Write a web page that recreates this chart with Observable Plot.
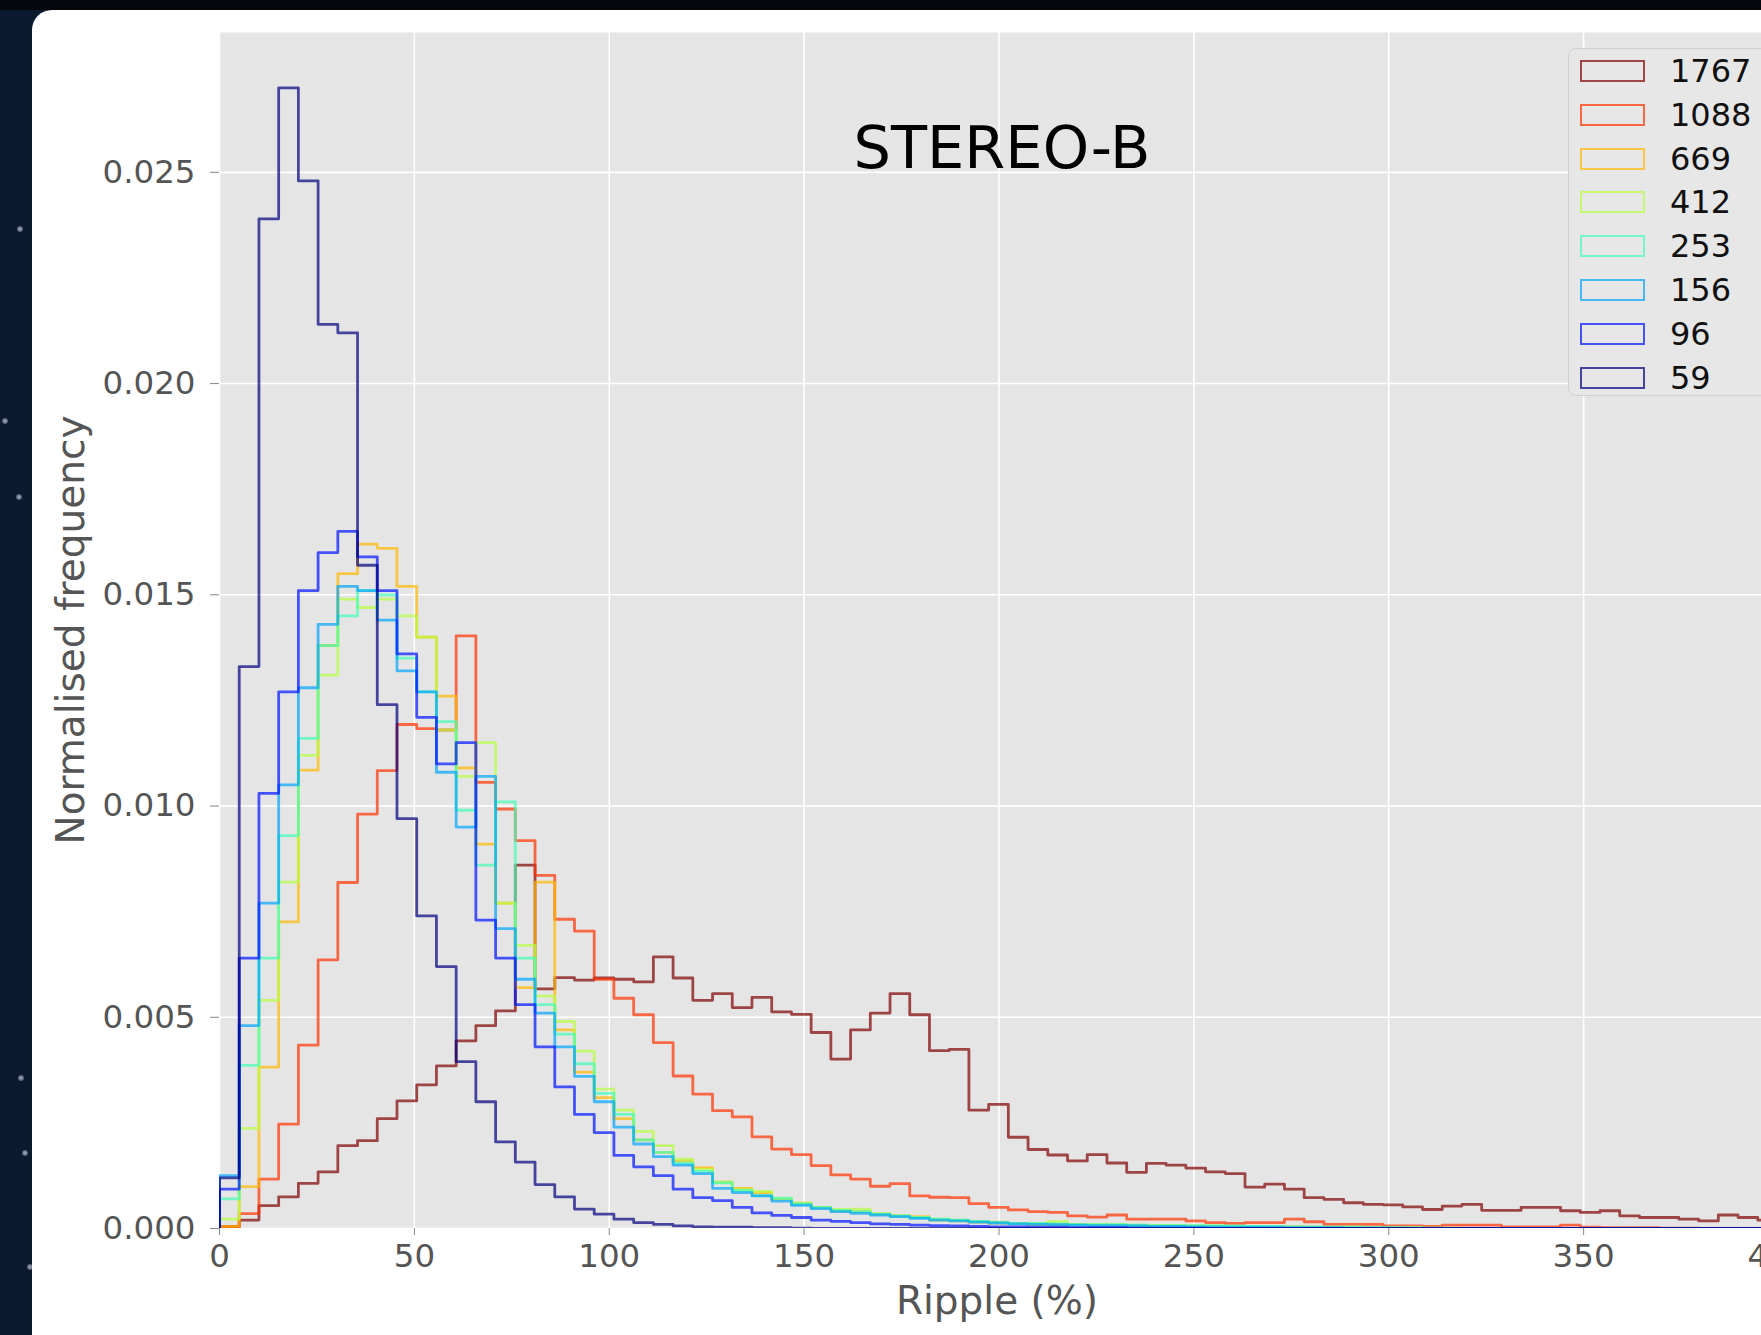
<!DOCTYPE html>
<html>
<head>
<meta charset="utf-8">
<script src="https://cdn.jsdelivr.net/npm/d3@7"></script>
<script src="https://cdn.jsdelivr.net/npm/@observablehq/plot@0.6"></script>
<style>
html,body{margin:0;padding:0;width:1761px;height:1335px;overflow:hidden;background:#0c1a30;}
#topband{position:absolute;left:0;top:0;width:1761px;height:10px;background:#06080d;}
#panel{position:absolute;left:32px;top:10px;width:1800px;height:1400px;background:#ffffff;border-top-left-radius:20px;}
#chart{position:absolute;left:0;top:0;width:1800px;height:1335px;}
#chart svg{max-width:none !important;}
.txt{position:absolute;font-family:"DejaVu Sans";white-space:nowrap;line-height:1;}
.star{position:absolute;width:6px;height:6px;border-radius:3px;background:radial-gradient(circle,#aab4c4 0%,#5a667a 60%,rgba(12,26,48,0) 100%);}
#legend{position:absolute;left:1568px;top:48px;width:230px;height:348px;background:#e7e7e7;border:1px solid #d0d0d0;border-radius:8px;box-sizing:border-box;}
.lrect{position:absolute;width:65px;height:22px;box-sizing:border-box;border-width:2.4px;border-style:solid;}
.ltext{position:absolute;font-family:"DejaVu Sans";font-size:32px;color:#111;line-height:1;white-space:nowrap;}
</style>
</head>
<body>
<div id="topband"></div>
<div class="star" style="left:17px;top:226px"></div>
<div class="star" style="left:2px;top:418px"></div>
<div class="star" style="left:16px;top:494px"></div>
<div class="star" style="left:18px;top:1075px"></div>
<div class="star" style="left:22px;top:1150px"></div>
<div class="star" style="left:27px;top:1264px"></div>
<div id="panel"></div>
<div id="chart"></div>
<div class="txt" style="left:70px;top:630px;font-size:39px;color:#555;transform:translate(-50%,-50%) rotate(-90deg);">Normalised frequency</div>
<div class="txt" style="left:997px;top:1300px;font-size:39px;color:#555;transform:translate(-50%,-50%);">Ripple (%)</div>
<div class="txt" style="left:1002px;top:147px;font-size:59px;color:#000;transform:translate(-50%,-50%);">STEREO-B</div>
<div id="legend"></div>
<script>
// ---- data ----
const binWidth = 5.06;
const nBins = 80;
const seriesNames = ["1767", "1088", "669", "412", "253", "156", "96", "59"];
const seriesColors = ["#800000", "#ff3200", "#ffb900", "#b6ff41", "#41ffb6", "#00a4ff", "#0012ff", "#000080"];
const xTicks = [0, 50, 100, 150, 200, 250, 300, 350, 400];
const yTicks = [0, 0.005, 0.010, 0.015, 0.020, 0.025];

const h1767 = [0.00005, 0.0002, 0.00054, 0.00075, 0.00107, 0.00134, 0.00196, 0.00208, 0.0026, 0.00302,
  0.0034, 0.00385, 0.00444, 0.0048, 0.00515, 0.0086, 0.00567, 0.00594, 0.00588, 0.00593,
  0.0059, 0.00584, 0.00643, 0.00593, 0.0054, 0.00556, 0.00523, 0.00547, 0.00513, 0.00507,
  0.00464, 0.00401, 0.0047, 0.0051, 0.00556, 0.00506, 0.00421, 0.00424, 0.0028, 0.00294,
  0.00216, 0.00187, 0.00174, 0.0016, 0.00175, 0.00155, 0.00133, 0.00154, 0.0015, 0.00143,
  0.00134, 0.0013, 0.00098, 0.00105, 0.00093, 0.00073, 0.00069, 0.00061, 0.00057, 0.00056,
  0.00051, 0.00045, 0.00053, 0.00057, 0.00043, 0.00043, 0.0005, 0.0005, 0.00042, 0.00038,
  0.00042, 0.0003, 0.00026, 0.00026, 0.00022, 0.00018, 0.00032, 0.00026, 0.0002, 0.00018];
const h1088 = [0.00003, 0.00035, 0.00117, 0.00247, 0.00434, 0.00636, 0.00819, 0.00981, 0.01084, 0.01193,
  0.01183, 0.0118, 0.01403, 0.01056, 0.00993, 0.00918, 0.00836, 0.00732, 0.00704, 0.0059,
  0.00545, 0.00506, 0.0044, 0.00361, 0.00318, 0.00279, 0.00264, 0.00217, 0.00188, 0.00175,
  0.00149, 0.00127, 0.00117, 0.001, 0.00106, 0.00077, 0.00074, 0.00073, 0.00059, 0.0005,
  0.00044, 0.0004, 0.00038, 0.0003, 0.00027, 0.00032, 0.00022, 0.00022, 0.00022, 0.00018,
  0.00014, 0.00012, 0.00014, 0.00014, 0.00022, 0.00016, 0.0001, 0.0001, 0.0001, 0.00006,
  0.00006, 0.00005, 0.00008, 0.00008, 0.00008, 0.00004, 0.00004, 0.00004, 0.00008, 0.00003,
  0.00002, 0.00002, 0.00002, 0.00001, 0.00001];
const h669 = [0.00005, 0.00099, 0.00382, 0.00726, 0.01085, 0.0138, 0.0155, 0.0162, 0.0161, 0.0152,
  0.014, 0.0126, 0.0109, 0.0091, 0.0077, 0.0057, 0.0082, 0.0047, 0.0037, 0.0031,
  0.0026, 0.0021, 0.0018, 0.0016, 0.00144, 0.0011, 0.00095, 0.00085, 0.0007, 0.0006,
  0.0005, 0.00042, 0.0004, 0.00034, 0.0003, 0.00028, 0.0002, 0.00018, 0.00015, 0.00013,
  0.00012, 0.0001, 0.0001, 0.00009, 0.00008, 0.00008, 0.00007, 0.00007, 0.00006, 0.00005,
  0.00005, 0.00005, 0.00004, 0.00004, 0.00004, 0.00003, 0.00003, 0.00003, 0.00002, 0.00002, 0.00001];
const h412 = [0.00022, 0.00237, 0.0054, 0.0082, 0.0112, 0.0131, 0.0149, 0.0147, 0.0149, 0.0145,
  0.014, 0.0118, 0.0107, 0.0115, 0.0077, 0.0067, 0.0055, 0.0049, 0.0042, 0.0033,
  0.0028, 0.0023, 0.00196, 0.00164, 0.0014, 0.0011, 0.00092, 0.00088, 0.0007, 0.0006,
  0.0005, 0.00045, 0.00046, 0.00035, 0.0003, 0.00026, 0.00022, 0.0002, 0.00017, 0.00015,
  0.00012, 0.00012, 0.00017, 0.0001, 0.0001, 0.00009, 0.00008, 0.00007, 0.00007, 0.00006,
  0.00006, 0.00005, 0.00005, 0.00004, 0.00004, 0.00003, 0.00003, 0.00003, 0.00002, 0.00002,
  0.00002, 0.00001, 0.00001];
const h253 = [0.0007, 0.00386, 0.0064, 0.0093, 0.0116, 0.0138, 0.0145, 0.0151, 0.015, 0.0135,
  0.0127, 0.012, 0.0099, 0.0086, 0.0101, 0.0064, 0.0053, 0.0046, 0.0039, 0.0032,
  0.0027, 0.0021, 0.0018, 0.00155, 0.00135, 0.00108, 0.0009, 0.00078, 0.00072, 0.00058,
  0.0005, 0.00043, 0.0004, 0.00034, 0.0003, 0.00026, 0.00022, 0.0002, 0.00017, 0.00014,
  0.00012, 0.00012, 0.00011, 0.00009, 0.00009, 0.00009, 0.00008, 0.00007, 0.00007, 0.00007,
  0.00006, 0.00006, 0.00005, 0.00005, 0.00004, 0.00004, 0.00003, 0.00003, 0.00002, 0.00002,
  0.00002, 0.00001];
const h156 = [0.00125, 0.0048, 0.0077, 0.0105, 0.0128, 0.0143, 0.0152, 0.0151, 0.0144, 0.0132,
  0.0127, 0.0108, 0.0095, 0.0107, 0.0071, 0.0059, 0.0051, 0.0043, 0.0036, 0.003,
  0.0024, 0.002, 0.0017, 0.0015, 0.0013, 0.00095, 0.00085, 0.00077, 0.00065, 0.00055,
  0.00047, 0.0004, 0.00036, 0.00032, 0.00028, 0.00024, 0.0002, 0.00018, 0.00015, 0.00013,
  0.00011, 0.0001, 0.00009, 0.00008, 0.00007, 0.00007, 0.00006, 0.00005, 0.00005, 0.00004,
  0.00004, 0.00003, 0.00003, 0.00003, 0.00002, 0.00002, 0.00002, 0.00001, 0.00001, 0.00001];
const h96 = [0.00093, 0.0064, 0.0103, 0.0127, 0.0151, 0.016, 0.0165, 0.0159, 0.0151, 0.0136,
  0.0121, 0.011, 0.0115, 0.0073, 0.0064, 0.0053, 0.0043, 0.00335, 0.0027, 0.00227,
  0.00173, 0.00146, 0.00125, 0.00093, 0.00073, 0.00066, 0.0005, 0.00037, 0.00031, 0.00026,
  0.0002, 0.00017, 0.00014, 0.00011, 0.0001, 0.00008, 0.00007, 0.00006, 0.00005, 0.00004,
  0.00004, 0.00003, 0.00003, 0.00002, 0.00002, 0.00002, 0.00001, 0.00001, 0.00001, 0.00001];
const h59 = [0.0012, 0.0133, 0.0239, 0.027, 0.0248, 0.0214, 0.0212, 0.0157, 0.0124, 0.0097,
  0.0074, 0.0062, 0.00395, 0.003, 0.00205, 0.00157, 0.00104, 0.00075, 0.00046, 0.00034,
  0.00022, 0.00014, 0.0001, 0.00006, 0.00004, 0.00003, 0.00003, 0.00002, 0.00002, 0.00001];

const seriesHeights = [h1767, h1088, h669, h412, h253, h156, h96, h59];

// step outline rows for one histogram (bin edges at i*binWidth)
function stepRows(name, h) {
  const rows = [{series: name, x: 0, y: 0}];
  h.forEach((v, i) => rows.push({series: name, x: i * binWidth, y: v}));
  rows.push({series: name, x: h.length * binWidth, y: 0});
  if (h.length < nBins) rows.push({series: name, x: nBins * binWidth, y: 0});
  return rows;
}

const lineMarks = seriesNames.map((name, i) =>
  Plot.line(stepRows(name, seriesHeights[i]), {
    x: "x", y: "y", stroke: "series", curve: "step-after",
    strokeWidth: 2.8, strokeOpacity: 0.7, clip: true
  })
);

const chart = Plot.plot({
  width: 1800,
  height: 1335,
  marginLeft: 219,
  marginRight: 22,
  marginTop: 32,
  marginBottom: 107,
  style: {background: "transparent", fontFamily: "DejaVu Sans", fontSize: "32px", color: "#555", overflow: "visible", maxWidth: "none"},
  x: {domain: [0, 400]},
  y: {domain: [0, 0.02831]},
  color: {domain: seriesNames, range: seriesColors},
  marks: [
    Plot.frame({fill: "#e5e5e5", stroke: "none"}),
    Plot.ruleX(xTicks, {stroke: "#ffffff", strokeWidth: 1.6}),
    Plot.ruleY(yTicks, {stroke: "#ffffff", strokeWidth: 1.6}),
    Plot.axisX({ticks: xTicks, tickSize: 7, tickPadding: 8, tickFormat: d3.format("d"), label: null, fontSize: 32.5, stroke: "#888", fill: "#555"}),
    Plot.axisY({ticks: yTicks, tickSize: 9, tickPadding: 15, tickFormat: d3.format(".3f"), label: null, fontSize: 32.5, stroke: "#888", fill: "#555"}),
    ...lineMarks
  ]
});
chart.style.maxWidth = "none";
chart.setAttribute("width", 1800);
chart.setAttribute("height", 1335);
document.getElementById("chart").appendChild(chart);

// legend (inside the axes, upper right)
const legend = document.getElementById("legend");
seriesNames.forEach((name, i) => {
  const rowTop = 11 + i * 43.8;
  const r = document.createElement("div");
  r.className = "lrect";
  r.style.left = "11px";
  r.style.top = rowTop + "px";
  const c = d3.color(seriesColors[i]); c.opacity = 0.7;
  r.style.borderColor = c.formatRgb();
  legend.appendChild(r);
  const t = document.createElement("div");
  t.className = "ltext";
  t.style.left = "101px";
  t.style.top = (rowTop - 5) + "px";
  t.textContent = name;
  legend.appendChild(t);
});
</script>
</body>
</html>
